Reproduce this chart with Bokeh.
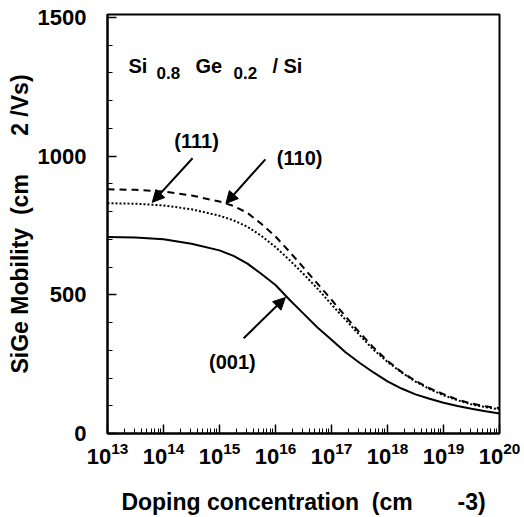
from bokeh.plotting import figure
from bokeh.models import Range1d, FixedTicker, Label, Arrow, NormalHead, LogTickFormatter
from bokeh.embed import file_html
from bokeh.resources import INLINE

# Doping concentration (cm^-3), quarter-decade sampling
doping = [1e13, 3.16e13, 1e14, 3.16e14, 1e15, 1.78e15, 3.16e15, 5.62e15,
          1e16, 1.78e16, 3.16e16, 5.62e16, 1e17, 1.78e17, 3.16e17, 5.62e17,
          1e18, 1.78e18, 3.16e18, 5.62e18, 1e19, 1.78e19, 3.16e19, 5.62e19, 1e20]

mob_001 = [708, 706, 700, 684, 660, 640, 612, 575, 535, 482, 432, 382, 338,
           293, 255, 220, 188, 162, 141, 125, 111, 99, 89, 80, 72]
mob_111 = [880, 878, 872, 858, 836, 820, 795, 755, 710, 655, 598, 540, 482,
           422, 364, 310, 262, 222, 190, 163, 142, 122, 108, 98, 91]
mob_110 = [830, 828, 822, 808, 785, 768, 745, 712, 672, 625, 575, 522, 465,
           410, 355, 302, 258, 220, 187, 160, 138, 120, 105, 95, 87]

x_major = [1e13, 1e14, 1e15, 1e16, 1e17, 1e18, 1e19, 1e20]
x_minor = [m * d for d in [1e13, 1e14, 1e15, 1e16, 1e17, 1e18, 1e19] for m in range(2, 10)]
y_major = [0, 500, 1000, 1500]
y_minor = [100, 200, 300, 400, 600, 700, 800, 900, 1100, 1200, 1300, 1400]

FONT = "Liberation Sans"
SP = "\u00a0"

p = figure(width=524, height=517, x_axis_type="log",
           x_range=Range1d(1e13, 1e20), y_range=Range1d(0, 1510),
           output_backend="svg", toolbar_location=None,
           min_border_left=107, min_border_right=25,
           min_border_top=14, min_border_bottom=84)

p.xgrid.visible = False
p.ygrid.visible = False
p.outline_line_color = "black"
p.outline_line_width = 2
p.outline_line_alpha = 1

p.xaxis.ticker = FixedTicker(ticks=x_major, minor_ticks=x_minor)
p.xaxis.formatter = LogTickFormatter()
p.yaxis.ticker = FixedTicker(ticks=y_major, minor_ticks=y_minor)

for ax in (p.xaxis[0], p.yaxis[0]):
    ax.axis_line_width = 2
    ax.axis_line_color = "black"
    ax.major_tick_in = 9
    ax.major_tick_out = 0
    ax.minor_tick_in = 5
    ax.minor_tick_out = 0
    ax.major_tick_line_width = 1.5
    ax.minor_tick_line_width = 1
    ax.major_label_text_font = FONT
    ax.major_label_text_font_style = "bold"
    ax.major_label_text_font_size = "22px"
    ax.major_label_text_color = "black"
    ax.axis_label_text_font = FONT
    ax.axis_label_text_font_style = "bold"
    ax.axis_label_text_font_size = "23px"
    ax.axis_label_text_color = "black"
p.xaxis.major_label_standoff = 8
p.yaxis.major_label_standoff = 21
p.xaxis.axis_label = "Doping concentration" + SP * 2 + "(cm" + SP * 7 + "-3)"
p.yaxis.axis_label = "SiGe Mobility" + SP * 2 + "(cm" + SP * 6 + "2" + SP + "/Vs)"
p.xaxis.axis_label_standoff = 22
p.yaxis.axis_label_standoff = 2

p.line(doping, mob_001, line_color="black", line_width=2)
p.line(doping, mob_111, line_color="black", line_width=2, line_dash="7 5")
p.line(doping, mob_110, line_color="black", line_width=2, line_dash="2 2")

def arrow(x0, y0, x1, y1):
    p.add_layout(Arrow(end=NormalHead(size=12, fill_color="black", line_color="black"),
                       x_start=x0, y_start=y0, x_end=x1, y_end=y1,
                       line_width=2, line_color="black"))

arrow(3.3e14, 992, 6.3e13, 833)
arrow(6.6e15, 988, 1.3e15, 829)
arrow(2.7e15, 343, 1.5e16, 490)

def lab(x, y, text, size="20px", align="center", baseline="middle"):
    p.add_layout(Label(x=x, y=y, text=text,
                       text_font=FONT, text_font_style="bold", text_font_size=size,
                       text_align=align, text_baseline=baseline,
                       text_color="black"))

lab(3.9e14, 1053, "(111)")
lab(2.7e16, 992, "(110)")
lab(1.7e15, 256, "(001)")

# title inside the frame
lab(2.37e13, 1323, "Si", size="20px", align="left", baseline="alphabetic")
lab(7.5e13, 1298, "0.8", size="17px", align="left", baseline="alphabetic")
lab(3.72e14, 1323, "Ge", size="20px", align="left", baseline="alphabetic")
lab(1.78e15, 1298, "0.2", size="17px", align="left", baseline="alphabetic")
lab(8.8e15, 1323, "/ Si", size="20px", align="left", baseline="alphabetic")

open("out.html", "w").write(file_html(p, INLINE))
